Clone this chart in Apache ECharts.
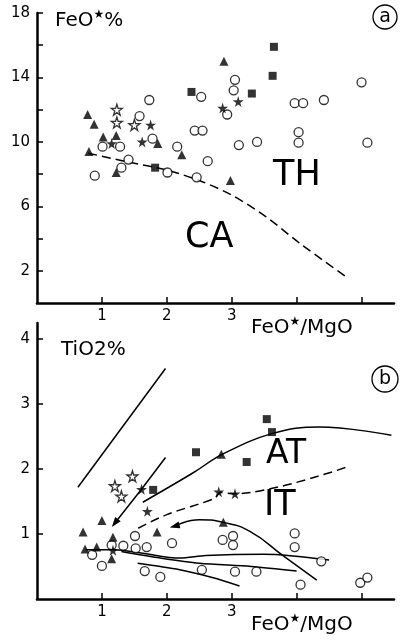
<!DOCTYPE html>
<html lang="en">
<head>
  <meta charset="UTF-8">
  <title>FeO*/MgO diagrams</title>
  <script src="https://cdn.jsdelivr.net/npm/echarts@6/dist/echarts.min.js"></script>
  <style>
    html, body { margin: 0; padding: 0; background: #fff; }
    #echarts { width: 406px; height: 642px; }
  </style>
</head>
<body>
  <div id="echarts"></div>
<script>
  // ---- (a) FeO* % against FeO*/MgO ----
  const aCircles = [[1.73, 12.6], [1.58, 11.6], [1.78, 10.2], [1.01, 9.7], [1.28, 9.7], [2.16, 9.7],
    [1.41, 8.9], [2.53, 12.8], [3.05, 13.85], [3.03, 13.2], [2.93, 11.7], [2.43, 10.7], [2.55, 10.7],
    [3.11, 9.8], [3.39, 10.0], [3.97, 12.4], [4.1, 12.4], [4.42, 12.6], [4.03, 10.6], [4.03, 9.95],
    [5.0, 13.7], [5.09, 9.95], [2.63, 8.8], [0.89, 7.9], [1.3, 8.4], [2.01, 8.1], [2.46, 7.8]];
  const aTriangles = [[0.78, 11.7], [0.88, 11.1], [1.02, 10.3], [1.22, 10.4], [0.8, 9.4], [1.86, 9.9],
    [2.23, 9.2], [2.88, 15.0], [1.22, 8.1], [2.98, 7.6]];
  const aSquares = [[3.65, 15.9], [3.63, 14.1], [2.38, 13.1], [3.31, 13.0], [1.82, 8.4]];
  const aStars = [[1.75, 11.05], [1.62, 10.0], [1.15, 9.9], [2.86, 12.1], [3.1, 12.5]];
  const aOpenStars = [[1.23, 12.0], [1.23, 11.2], [1.5, 11.05]];
  const aBoundary = [[0.79, 9.3], [1.4, 8.75], [2.0, 8.25], [2.5, 7.6], [3.0, 6.7], [3.53, 5.35], [4.05, 3.7], [4.77, 1.6]];

  // ---- (b) TiO2 % against FeO*/MgO ----
  const bCircles = [[0.85, 0.68], [1.0, 0.51], [1.15, 0.83], [1.33, 0.82], [1.51, 0.97], [1.52, 0.78],
    [1.69, 0.8], [2.08, 0.86], [1.66, 0.43], [1.9, 0.34], [2.54, 0.45], [2.86, 0.91], [3.02, 0.97],
    [3.02, 0.83], [3.05, 0.42], [3.38, 0.42], [3.97, 1.01], [3.97, 0.8], [4.06, 0.22], [4.38, 0.58],
    [4.98, 0.25], [5.09, 0.33]];
  const bTriangles = [[0.71, 1.03], [1.0, 1.21], [1.85, 1.03], [1.17, 0.95], [0.74, 0.77], [0.92, 0.8],
    [1.15, 0.62], [2.84, 2.23], [2.87, 1.18]];
  const bSquares = [[3.54, 2.77], [3.62, 2.57], [2.45, 2.26], [3.23, 2.11], [1.79, 1.68]];
  const bStars = [[1.61, 1.69], [1.7, 1.35], [2.8, 1.65], [3.05, 1.62], [1.17, 0.75]];
  const bOpenStars = [[1.47, 1.89], [1.2, 1.74], [1.3, 1.58]];
  const bSteep = [[0.63, 1.72], [1.98, 3.55]];
  const bArrow1 = [[1.98, 2.18], [1.61, 1.69], [1.2, 1.17]];
  const bAT = [[1.63, 1.49], [2.4, 1.94], [2.86, 2.23], [3.63, 2.55], [4.35, 2.65], [5.46, 2.52]];
  const bIT = [[1.56, 1.09], [2.0, 1.3], [2.74, 1.55], [2.82, 1.64], [3.05, 1.62], [4.77, 2.03]];
  const bArc = [[4.31, 0.29], [3.8, 0.66], [3.28, 1.04], [2.87, 1.18], [2.5, 1.22], [2.12, 1.12]];
  const bLow1 = [[0.75, 0.76], [1.2, 0.76], [1.6, 0.71], [2.2, 0.63], [2.6, 0.67], [3.5, 0.69], [4.5, 0.6]];
  const bLow2 = [[1.3, 0.73], [1.9, 0.63], [2.5, 0.55], [3.3, 0.5], [4.0, 0.43]];
  const bLow3 = [[1.55, 0.55], [2.2, 0.45], [2.7, 0.33], [3.12, 0.2]];

  // tick marks and labels
  const xTicks = [1, 2, 3, 4, 5];
  const xTickLabels = [1, 2, 3];
  const aYTicks = [2, 4, 6, 8, 10, 12, 14, 16, 18];
  const aYTickLabels = [2, 6, 10, 14, 18];
  const bYTicks = [1, 2, 3, 4];
  const bYTickLabels = [1, 2, 3, 4];

  let myChart = echarts.init(document.getElementById('echarts'));

  const font = 'DejaVu Sans';
  const star = 'path://M50,0 L61,35 L98,35 L68,57 L79,91 L50,70 L21,91 L32,57 L2,35 L39,35 Z';

  function xAxis(gridIndex) {
    return {
      type: 'value', gridIndex: gridIndex, min: 0, max: 5.5,
      axisLine: { onZero: false, lineStyle: { color: '#000', width: 2.5 } },
      axisTick: { inside: true, length: 6, customValues: xTicks, lineStyle: { color: '#000', width: 1.5 } },
      axisLabel: { customValues: xTickLabels, color: '#000', fontSize: 15, fontFamily: font, margin: 6 },
      splitLine: { show: false }
    };
  }

  function yAxis(gridIndex, max, ticks, labels) {
    return {
      type: 'value', gridIndex: gridIndex, min: 0, max: max,
      axisLine: { onZero: false, lineStyle: { color: '#000', width: 2.5 } },
      axisTick: { inside: true, length: 6, customValues: ticks, lineStyle: { color: '#000', width: 1.5 } },
      axisLabel: { customValues: labels, color: '#000', fontSize: 15, fontFamily: font, margin: 7 },
      splitLine: { show: false }
    };
  }

  function dots(idx, data, symbol, size, filled) {
    return {
      type: 'scatter', xAxisIndex: idx, yAxisIndex: idx, data: data, symbol: symbol, symbolSize: size, z: 5,
      itemStyle: filled ? { color: '#000' } : { color: '#fff', borderColor: '#000', borderWidth: 1.3 }
    };
  }

  function curve(idx, data, dashed, smooth) {
    return {
      type: 'line', xAxisIndex: idx, yAxisIndex: idx, data: data, symbol: 'none', smooth: smooth, z: 3,
      lineStyle: { color: '#000', width: 1.5, type: dashed ? [9, 5] : 'solid' }
    };
  }

  // put an arrowhead on the last point of a line
  function arrowEnd(data, rotate) {
    return data.map(function (p, i) {
      return i === data.length - 1 ? { value: p, symbol: 'triangle', symbolSize: [7, 10], symbolRotate: rotate, itemStyle: { color: '#000' } } : p;
    });
  }

  function text(str, left, top, size) {
    return {
      type: 'text', left: left, top: top,
      style: { text: str, fill: '#000', font: size + 'px "' + font + '"' }
    };
  }

  function supText(str, left, top, size) {
    return {
      type: 'text', left: left, top: top,
      style: {
        text: str, fill: '#000', fontFamily: font, fontSize: size, lineHeight: size + 4,
        rich: { s: { fontSize: size * 0.6, fontFamily: font, verticalAlign: 'top', lineHeight: size + 4, fill: '#000' } }
      }
    };
  }

  // panel letter in a circle
  function badge(ch, cx, cy, r) {
    return {
      type: 'group',
      children: [
        { type: 'circle', shape: { cx: cx, cy: cy, r: r }, style: { fill: 'none', stroke: '#000', lineWidth: 1.3 } },
        { type: 'text', x: cx, y: cy, style: { text: ch, fill: '#000', font: '19px "' + font + '"', align: 'center', verticalAlign: 'middle' } }
      ]
    };
  }

  myChart.setOption({
    animation: false,
    backgroundColor: '#fff',
    grid: [
      { left: 37, right: 12, top: 13, bottom: 339 },
      { left: 37, right: 12, top: 323, bottom: 43 }
    ],
    xAxis: [xAxis(0), xAxis(1)],
    yAxis: [yAxis(0, 18, aYTicks, aYTickLabels), yAxis(1, 4.25, bYTicks, bYTickLabels)],
    graphic: [
      supText('FeO{s|★}%', 55, 9, 20),
      supText('FeO{s|★}/MgO', 251, 316, 20),
      supText('TiO2%', 61, 338, 20),
      supText('FeO{s|★}/MgO', 251, 613, 20),
      text('TH', 273, 158, 35),
      text('CA', 185, 220, 35),
      text('AT', 266, 438, 33),
      text('IT', 264, 488, 35),
      badge('a', 385, 17, 12),
      badge('b', 385, 379, 13)
    ],
    series: [
      curve(0, aBoundary, true, 0.3),
      dots(0, aCircles, 'circle', 9, false),
      dots(0, aTriangles, 'triangle', 9, true),
      dots(0, aSquares, 'rect', 8, true),
      dots(0, aStars, star, 11, true),
      dots(0, aOpenStars, star, 11, false),

      curve(1, bSteep, false, false),
      curve(1, arrowEnd(bArrow1, 142), false, false),
      curve(1, bAT, false, 0.4),
      curve(1, bIT, true, 0.3),
      curve(1, arrowEnd(bArc, 105), false, 0.5),
      curve(1, bLow1, false, 0.3),
      curve(1, bLow2, false, 0.3),
      curve(1, bLow3, false, 0.3),
      dots(1, bCircles, 'circle', 9, false),
      dots(1, bTriangles, 'triangle', 9, true),
      dots(1, bSquares, 'rect', 8, true),
      dots(1, bStars, star, 11, true),
      dots(1, bOpenStars, star, 11, false)
    ]
  });
</script>
</body>
</html>
